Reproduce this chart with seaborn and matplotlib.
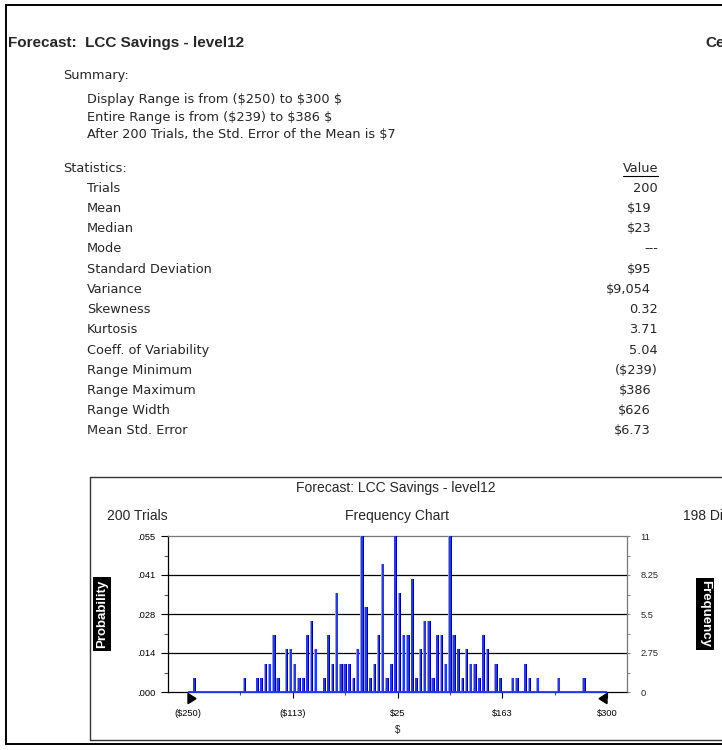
import numpy as np
import pandas as pd
import matplotlib
matplotlib.use("Agg")
import matplotlib.pyplot as plt
from matplotlib.lines import Line2D
from matplotlib.patches import Rectangle, Polygon
from matplotlib.ticker import FixedLocator, FuncFormatter, NullFormatter
import seaborn as sns

# ---- forecast data -------------------------------------------------------
FORECAST = "LCC Savings - level12"
TRIALS = 200
DISPLAYED = 198
DISPLAY_MIN, DISPLAY_MAX = -250, 300
N_BINS = 100

# occupied histogram cells (cell number counted from DISPLAY_MIN) and trial counts
bin_number = [1, 13, 16, 17, 18, 19, 20, 21, 23, 24, 25, 26, 27, 28, 29, 30,
              32, 33, 34, 35, 36, 37, 38, 39, 40, 41, 42, 43, 44, 45, 46, 47,
              48, 49, 50, 51, 52, 53, 54, 55, 56, 57, 58, 59, 60, 61, 62,
              63, 64, 65, 66, 67, 68, 69, 70, 71,
              73, 74, 77, 78, 80, 81, 83, 88, 94]
bin_count = [1, 1, 1, 1, 2, 2, 4, 1, 3, 3, 2, 1, 1, 4, 5, 3,
             1, 4, 2, 7, 2, 2, 2, 1, 3, 11, 6, 1, 2, 4, 9, 1,
             2, 11, 7, 4, 4, 8, 1, 3, 5, 5, 1, 4, 4, 2, 11,
             4, 3, 1, 3, 2, 2, 1, 4, 3,
             2, 1, 1, 1, 2, 1, 1, 1, 1]

summary_lines = [
    "Display Range is from ($250) to $300 $",
    "Entire Range is from ($239) to $386 $",
    "After 200 Trials, the Std. Error of the Mean is $7",
]
stat_names = ["Trials", "Mean", "Median", "Mode", "Standard Deviation",
              "Variance", "Skewness", "Kurtosis", "Coeff. of Variability",
              "Range Minimum", "Range Maximum", "Range Width", "Mean Std. Error"]
stat_values = ["200", "$19", "$23", "---", "$95", "$9,054", "0.32", "3.71",
               "5.04", "($239)", "$386", "$626", "$6.73"]

x_ticks = [-250, -112.5, 25, 162.5, 300]
freq_ticks = [0, 2.75, 5.5, 8.25, 11]

# ---- styling -------------------------------------------------------------
sns.set_style("white")
plt.rcParams["font.family"] = ["DejaVu Sans"]
CHART_FONT = ["Liberation Sans", "DejaVu Sans"]
BAR_BLUE = "#2238ff"
BAR_DARK = "#000078"
BAR_LIGHT = "#8e9bff"

W, H = 722, 750
fig = plt.figure(figsize=(W / 100, H / 100), dpi=100)


def fx(px):
    return px / W


def fy(py):
    return 1 - py / H


# page frame (continues past the right edge)
for xs, ys in [((6, 6), (5, 744)), ((6, W + 5), (5, 5)), ((6, W + 5), (744, 744))]:
    fig.add_artist(Line2D([fx(v) for v in xs], [fy(v) for v in ys],
                          color="black", lw=1.4))

# report header
fig.text(fx(8), fy(43), f"Forecast:  {FORECAST}", fontsize=11,
         fontweight="bold", family=CHART_FONT, va="center", ha="left")
fig.text(fx(705), fy(43), "Cell:", fontsize=11, fontweight="bold",
         family=CHART_FONT, va="center", ha="left")

BODY = 9.3
fig.text(fx(63), fy(76), "Summary:", fontsize=BODY, va="center")
for i, line in enumerate(summary_lines):
    fig.text(fx(87), fy(99 + 18 * i), line, fontsize=BODY, va="center")

STAT_TOP = 168
row_step = (431 - STAT_TOP) / len(stat_names)
fig.text(fx(63), fy(STAT_TOP), "Statistics:", fontsize=BODY, va="center")
hdr = fig.text(fx(658), fy(STAT_TOP), "Value", fontsize=BODY, va="center",
               ha="right")
for i, (name, val) in enumerate(zip(stat_names, stat_values)):
    y = fy(STAT_TOP + row_step * (i + 1))
    fig.text(fx(87), y, name, fontsize=BODY, va="center")
    # currency figures leave room for a closing parenthesis
    xr = 651 if val.startswith("$") else 658
    fig.text(fx(xr), y, val, fontsize=BODY, va="center", ha="right")

# chart frame
for xs, ys in [((90, 90), (477, 740)), ((90, W + 5), (477, 477)), ((90, W + 5), (740, 740))]:
    fig.add_artist(Line2D([fx(v) for v in xs], [fy(v) for v in ys],
                          color="#333333", lw=1.0))

fig.text(fx(396), fy(488), f"Forecast: {FORECAST}", fontsize=10, family=CHART_FONT,
         ha="center", va="center")
fig.text(fx(107), fy(516), f"{TRIALS} Trials", fontsize=10, family=CHART_FONT,
         ha="left", va="center")
fig.text(fx(397), fy(516), "Frequency Chart", fontsize=10, family=CHART_FONT,
         ha="center", va="center")
fig.text(fx(683), fy(516), f"{DISPLAYED} Displayed", fontsize=10, family=CHART_FONT,
         ha="left", va="center")

# ---- histogram -----------------------------------------------------------
ax = fig.add_axes([fx(168), fy(692), (627 - 168) / W, (692 - 536) / H])

bin_width = (DISPLAY_MAX - DISPLAY_MIN) / N_BINS
centers = DISPLAY_MIN + bin_width * (np.asarray(bin_number) + 0.5)
df = pd.DataFrame({"value": centers, "trials": bin_count})
sns.histplot(data=df, x="value", weights="trials", binwidth=bin_width,
             binrange=(DISPLAY_MIN, DISPLAY_MAX), shrink=0.78,
             color=BAR_BLUE, alpha=1, linewidth=0, ax=ax, zorder=3)

# bevel shading on every bar
for p in list(ax.patches):
    h = p.get_height()
    if h <= 0:
        continue
    x0, w = p.get_x(), p.get_width()
    ax.add_patch(Rectangle((x0, 0), w * 0.22, h, facecolor=BAR_LIGHT,
                           edgecolor="none", zorder=3.1))
    ax.add_patch(Rectangle((x0 + w * 0.76, 0), w * 0.24, h, facecolor=BAR_DARK,
                           edgecolor="none", zorder=3.2))

pad = (DISPLAY_MAX - DISPLAY_MIN) * 20 / 419
ax.set_xlim(DISPLAY_MIN - pad, DISPLAY_MAX + pad)
ax.set_ylim(0, 11)

# display-range baseline and end markers
ax.plot([DISPLAY_MIN, DISPLAY_MAX], [0, 0], color=BAR_BLUE, lw=1.3,
        solid_capstyle="butt", zorder=4, clip_on=False)
tr = ax.get_xaxis_transform()
mw = (DISPLAY_MAX - DISPLAY_MIN) * 8 / 419
ax.add_patch(Polygon([(DISPLAY_MIN, -0.01), (DISPLAY_MIN, -0.075),
                      (DISPLAY_MIN + mw, -0.0425)], closed=True, color="black",
                     transform=tr, clip_on=False, zorder=5))
ax.add_patch(Polygon([(DISPLAY_MAX, -0.01), (DISPLAY_MAX, -0.075),
                      (DISPLAY_MAX - mw, -0.0425)], closed=True, color="black",
                     transform=tr, clip_on=False, zorder=5))


def money(v, _pos=None):
    n = int(abs(v) + 0.5)
    return f"(${n})" if v < 0 else f"${n}"


def prob(v, _pos=None):
    return f"{round(v / TRIALS + 1e-9, 3):.3f}".lstrip("0")


ax.xaxis.set_major_locator(FixedLocator(x_ticks))
ax.xaxis.set_minor_locator(FixedLocator(
    [(a + b) / 2 for a, b in zip(x_ticks[:-1], x_ticks[1:])]))
ax.xaxis.set_major_formatter(FuncFormatter(money))
ax.yaxis.set_major_locator(FixedLocator(freq_ticks))
ax.yaxis.set_minor_locator(FixedLocator(
    [(a + b) / 2 for a, b in zip(freq_ticks[:-1], freq_ticks[1:])]))
ax.yaxis.set_major_formatter(FuncFormatter(prob))
ax.yaxis.set_minor_formatter(NullFormatter())

ax.tick_params(axis="x", which="major", length=4, width=0.8, direction="out",
               labelsize=6.7, pad=8, bottom=True, colors="black")
ax.tick_params(axis="x", which="minor", length=2.5, width=0.8, direction="out",
               bottom=True, color="#555555")
ax.tick_params(axis="y", which="major", length=5, width=0.8, direction="out",
               labelsize=6.7, pad=4, left=True, colors="black")
ax.tick_params(axis="y", which="minor", length=3, width=0.8, direction="out",
               left=True, color="#555555")
for lab in ax.get_xticklabels() + ax.get_yticklabels():
    lab.set_family(CHART_FONT)

ax.set_xlabel("$", fontsize=7, family=CHART_FONT, labelpad=5)
ax.set_ylabel("")
ax.grid(False)
ax.set_axisbelow(True)
for lvl in freq_ticks[1:-1]:
    ax.axhline(lvl, color="black", lw=0.9, zorder=1)

for side in ["left", "bottom"]:
    ax.spines[side].set_color("black")
    ax.spines[side].set_linewidth(0.9)
for side in ["top", "right"]:
    ax.spines[side].set_color("#777777")
    ax.spines[side].set_linewidth(0.9)

ax2 = ax.twinx()
ax2.set_ylim(ax.get_ylim())
ax2.yaxis.set_major_locator(FixedLocator(freq_ticks))
ax2.yaxis.set_minor_locator(FixedLocator(
    [(a + b) / 2 for a, b in zip(freq_ticks[:-1], freq_ticks[1:])]))
ax2.yaxis.set_major_formatter(FuncFormatter(lambda v, _p: f"{v:g}"))
ax2.yaxis.set_minor_formatter(NullFormatter())
ax2.tick_params(axis="y", which="both", length=2.5, width=0.8, direction="out",
                labelsize=6.7, pad=7, right=True, color="#888888")
for lab in ax2.get_yticklabels():
    lab.set_family(CHART_FONT)
ax2.grid(False)
for s in ax2.spines.values():
    s.set_visible(False)

# axis captions in reverse video
cap = dict(fontsize=9.5, fontweight="bold", color="white", family=CHART_FONT,
           ha="center", va="center",
           bbox=dict(facecolor="black", edgecolor="none", pad=2))
fig.text(fx(102), fy(614), "Probability", rotation=90, **cap)
fig.text(fx(705), fy(614), "Frequency", rotation=270, **cap)

# underline the value column header
fig.canvas.draw()
bb = hdr.get_window_extent()
fig.add_artist(Line2D([bb.x0 / W, bb.x1 / W], [(bb.y0 - 1) / H, (bb.y0 - 1) / H],
                      color="black", lw=0.8))

fig.savefig("out.png", dpi=100)
